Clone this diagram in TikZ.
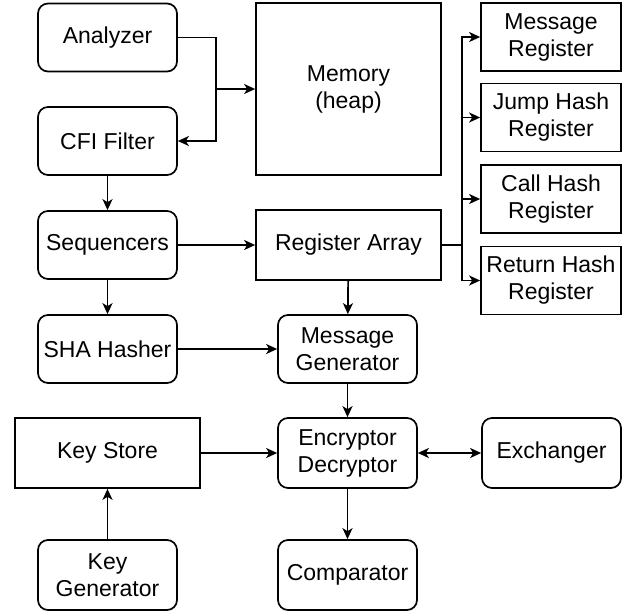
\documentclass[tikz,border=0pt]{standalone}
\usepackage{fontspec}
\setmainfont{Liberation Sans}
\usetikzlibrary{arrows.meta}
\begin{document}
\begin{tikzpicture}[x=1pt,y=-1pt,
  box/.style={draw,line width=1.7pt,minimum width=139pt,minimum height=68pt,inner sep=0pt,align=center,font=\fontsize{23}{27}\selectfont},
  rbox/.style={box,rounded corners=10pt},
  wbox/.style={box,minimum width=185pt},
  regbox/.style={box,minimum width=140pt},
  arr/.style={line width=1.7pt,-{Stealth[length=11pt,width=10pt,inset=3pt]}},
  ln/.style={line width=1.7pt},
  darr/.style={line width=1.7pt,{Stealth[length=11pt,width=10pt,inset=3pt]}-{Stealth[length=11pt,width=10pt,inset=3pt]}}]
\useasboundingbox (0,0) rectangle (629,614);
\node[rbox] (ana) at (107.5,37.5) {Analyzer};
\node[rbox] (cfi) at (107.5,141) {CFI Filter};
\node[wbox,minimum height=172pt] (mem) at (348.5,89) {Memory\\(heap)};
\node[rbox] (seq) at (107.5,245) {Sequencers};
\node[wbox,minimum height=70pt] (ra) at (348.5,245) {Register Array};
\node[rbox] (sha) at (107.5,349) {SHA Hasher};
\node[rbox] (mg) at (347.5,349) {Message\\Generator};
\node[wbox,minimum height=70pt] (ks) at (107.5,453) {Key Store};
\node[rbox,minimum height=70pt] (enc) at (347.5,453) {Encryptor\\Decryptor};
\node[rbox,minimum height=70pt] (ex) at (551.5,453) {Exchanger};
\node[rbox,minimum height=70pt] (kg) at (107.5,575) {Key\\Generator};
\node[rbox,minimum height=70pt] (cmp) at (347.5,575) {Comparator};
\node[regbox] (r1) at (551,37) {Message\\Register};
\node[regbox] (r2) at (551,117.5) {Jump Hash\\Register};
\node[regbox] (r3) at (551,199) {Call Hash\\Register};
\node[regbox] (r4) at (551,280.5) {Return Hash\\Register};
\coordinate (j1) at (216,37.5);
\coordinate (j2) at (216,89);
\draw[arr] (ana.east) -- (j1) |- (cfi.east);
\draw[arr] (j2) -- (j2 -| mem.west);
\draw[arr] (cfi) -- (seq);
\draw[arr] (seq) -- (ra);
\draw[arr] (seq) -- (sha);
\draw[arr] (ra) -- (mg);
\draw[arr] (sha) -- (mg);
\draw[arr] (mg) -- (enc);
\draw[arr] (ks) -- (enc);
\draw[darr] (enc) -- (ex);
\draw[arr] (kg) -- (ks);
\draw[arr] (enc) -- (cmp);
\coordinate (b) at (462,245);
\draw[ln] (ra.east) -- (b);
\draw[arr] (b) |- (r1.west);
\draw[arr] (b) |- (r2.west);
\draw[arr] (b) |- (r3.west);
\draw[arr] (b) |- (r4.west);
\end{tikzpicture}
\end{document}
